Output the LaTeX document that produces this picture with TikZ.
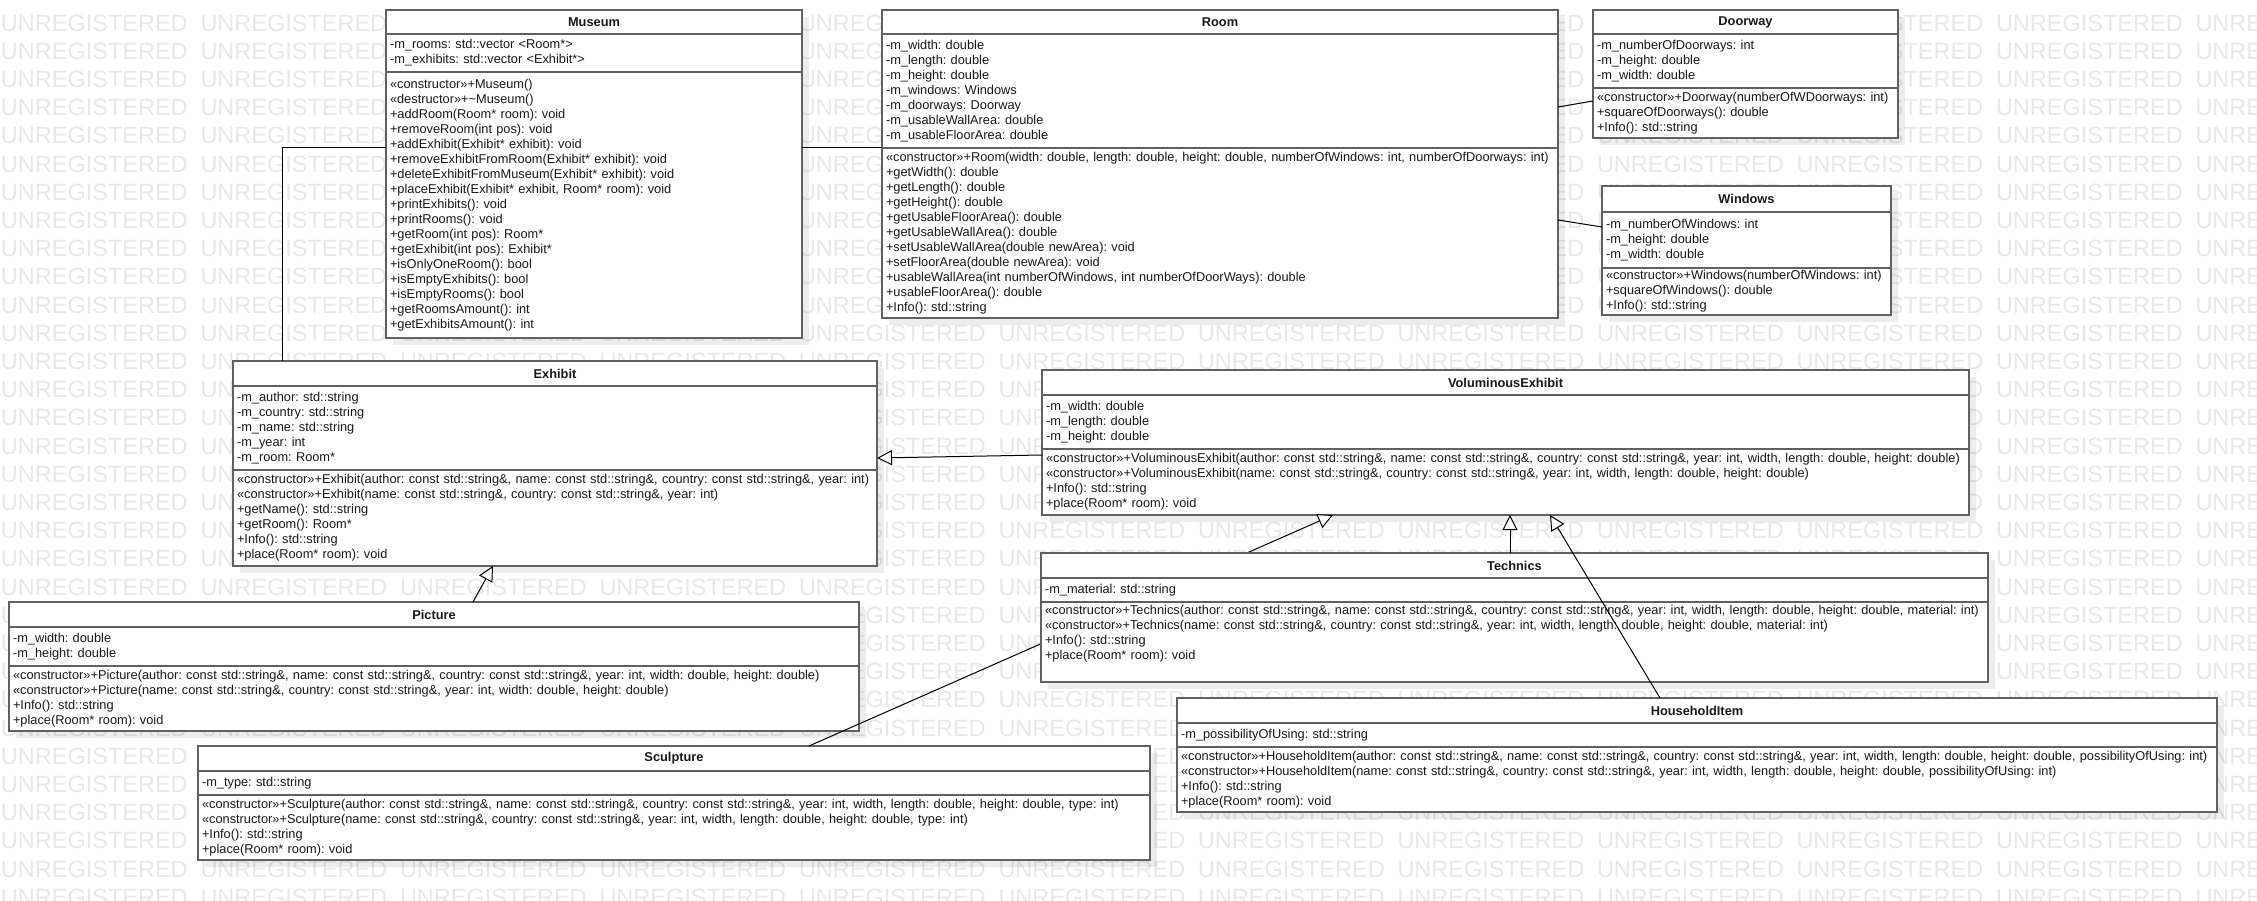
\documentclass[tikz,border=0pt]{standalone}
\usepackage{fontspec}
\setmainfont{Liberation Sans}
\usepackage{tikz}
\usetikzlibrary{arrows.meta,positioning,shadows}
\hyphenpenalty=10000
\exhyphenpenalty=10000

\begin{document}
\begin{tikzpicture}[x=1pt,y=-1pt,
  every node/.style={font=\fontsize{12.8}{15}\selectfont\frenchspacing, text=black!90, outer sep=0pt},
  watermark/.style={anchor=west, inner sep=0pt, text=black!9, font=\fontsize{23.5}{24}\selectfont},
  classname/.style={draw=black!62, line width=1.3pt, fill=white, anchor=north west, inner sep=0pt,
    font=\fontsize{12.8}{15}\selectfont\bfseries, drop shadow={shadow xshift=7pt, shadow yshift=-7pt, fill=black, opacity=0.07}},
  members/.style={draw=black!62, line width=1.3pt, fill=white, align=left, inner xsep=4pt, inner ysep=0pt,
    drop shadow={shadow xshift=7pt, shadow yshift=-7pt, fill=black, opacity=0.07}},
  assoc/.style={draw=black, line width=1pt},
  gen/.style={draw=black, line width=1pt, -{Triangle[length=15pt, width=15pt, fill=white]}}]
\fill[white] (0,0) rectangle (2257,901);
\useasboundingbox (0,0) rectangle (2257,901);

\foreach \r in {0,...,31}{
  \foreach \c in {0,...,11}{
    \node[watermark] (wm-\r-\c) at (\c*199.5+1, 23+\r*28.2) {UNREGISTERED};
  }
}

\node[classname, minimum width=416pt, minimum height=24pt] (museum) at (386,10) {Museum};
\node[members, text width=408pt, minimum height=38pt, below=0pt of museum] (museum attr) {-m\_rooms: std::vector <Room*>\\-m\_exhibits: std::vector <Exhibit*>};
\node[members, text width=408pt, minimum height=266pt, below=0pt of museum attr] (museum ops) {«constructor»+Museum()\\«destructor»+\textasciitilde Museum()\\+addRoom(Room* room): void\\+removeRoom(int pos): void\\+addExhibit(Exhibit* exhibit): void\\+removeExhibitFromRoom(Exhibit* exhibit): void\\+deleteExhibitFromMuseum(Exhibit* exhibit): void\\+placeExhibit(Exhibit* exhibit, Room* room): void\\+printExhibits(): void\\+printRooms(): void\\+getRoom(int pos): Room*\\+getExhibit(int pos): Exhibit*\\+isOnlyOneRoom(): bool\\+isEmptyExhibits(): bool\\+isEmptyRooms(): bool\\+getRoomsAmount(): int\\+getExhibitsAmount(): int};

\node[classname, minimum width=676pt, minimum height=24pt] (room) at (882,10) {Room};
\node[members, text width=668pt, minimum height=114pt, below=0pt of room] (room attr) {-m\_width: double\\-m\_length: double\\-m\_height: double\\-m\_windows: Windows\\-m\_doorways: Doorway\\-m\_usableWallArea: double\\-m\_usableFloorArea: double};
\node[members, text width=668pt, minimum height=170pt, below=0pt of room attr] (room ops) {«constructor»+Room(width: double, length: double, height: double, numberOfWindows: int, numberOfDoorways: int)\\+getWidth(): double\\+getLength(): double\\+getHeight(): double\\+getUsableFloorArea(): double\\+getUsableWallArea(): double\\+setUsableWallArea(double newArea): void\\+setFloorArea(double newArea): void\\+usableWallArea(int numberOfWindows, int numberOfDoorWays): double\\+usableFloorArea(): double\\+Info(): std::string};

\node[classname, minimum width=305pt, minimum height=24pt] (doorway) at (1593,10) {Doorway};
\node[members, text width=297pt, minimum height=54pt, below=0pt of doorway] (doorway attr) {-m\_numberOfDoorways: int\\-m\_height: double\\-m\_width: double};
\node[members, text width=297pt, minimum height=50pt, below=0pt of doorway attr] (doorway ops) {«constructor»+Doorway(numberOfWDoorways: int)\\+squareOfDoorways(): double\\+Info(): std::string};

\node[classname, minimum width=289pt, minimum height=26pt] (windows) at (1602,186) {Windows};
\node[members, text width=281pt, minimum height=56pt, below=0pt of windows] (windows attr) {-m\_numberOfWindows: int\\-m\_height: double\\-m\_width: double};
\node[members, text width=281pt, minimum height=47pt, below=0pt of windows attr] (windows ops) {«constructor»+Windows(numberOfWindows: int)\\+squareOfWindows(): double\\+Info(): std::string};

\node[classname, minimum width=644pt, minimum height=25pt] (exhibit) at (233,361) {Exhibit};
\node[members, text width=636pt, minimum height=84pt, below=0pt of exhibit] (exhibit attr) {-m\_author: std::string\\-m\_country: std::string\\-m\_name: std::string\\-m\_year: int\\-m\_room: Room*};
\node[members, text width=636pt, minimum height=96pt, below=0pt of exhibit attr] (exhibit ops) {«constructor»+Exhibit(author: const std::string\&, name: const std::string\&, country: const std::string\&, year: int)\\«constructor»+Exhibit(name: const std::string\&, country: const std::string\&, year: int)\\+getName(): std::string\\+getRoom(): Room*\\+Info(): std::string\\+place(Room* room): void};

\node[classname, minimum width=927pt, minimum height=25pt] (volum) at (1042,370) {VoluminousExhibit};
\node[members, text width=919pt, minimum height=54pt, below=0pt of volum] (volum attr) {-m\_width: double\\-m\_length: double\\-m\_height: double};
\node[members, text width=919pt, minimum height=66pt, below=0pt of volum attr] (volum ops) {«constructor»+VoluminousExhibit(author: const std::string\&, name: const std::string\&, country: const std::string\&, year: int, width, length: double, height: double)\\«constructor»+VoluminousExhibit(name: const std::string\&, country: const std::string\&, year: int, width, length: double, height: double)\\+Info(): std::string\\+place(Room* room): void};

\node[classname, minimum width=850pt, minimum height=25pt] (picture) at (9,602) {Picture};
\node[members, text width=842pt, minimum height=39pt, below=0pt of picture] (picture attr) {-m\_width: double\\-m\_height: double};
\node[members, text width=842pt, minimum height=65pt, below=0pt of picture attr] (picture ops) {«constructor»+Picture(author: const std::string\&, name: const std::string\&, country: const std::string\&, year: int, width: double, height: double)\\«constructor»+Picture(name: const std::string\&, country: const std::string\&, year: int, width: double, height: double)\\+Info(): std::string\\+place(Room* room): void};

\node[classname, minimum width=952pt, minimum height=25pt] (sculpture) at (198,746) {Sculpture};
\node[members, text width=944pt, minimum height=24pt, below=0pt of sculpture] (sculpture attr) {-m\_type: std::string};
\node[members, text width=944pt, minimum height=65pt, below=0pt of sculpture attr] (sculpture ops) {«constructor»+Sculpture(author: const std::string\&, name: const std::string\&, country: const std::string\&, year: int, width, length: double, height: double, type: int)\\«constructor»+Sculpture(name: const std::string\&, country: const std::string\&, year: int, width, length: double, height: double, type: int)\\+Info(): std::string\\+place(Room* room): void};

\node[classname, minimum width=1040pt, minimum height=25pt] (household) at (1177,698) {HouseholdItem};
\node[members, text width=1032pt, minimum height=24pt, below=0pt of household] (household attr) {-m\_possibilityOfUsing: std::string};
\node[members, text width=1032pt, minimum height=65pt, below=0pt of household attr] (household ops) {«constructor»+HouseholdItem(author: const std::string\&, name: const std::string\&, country: const std::string\&, year: int, width, length: double, height: double, possibilityOfUsing: int)\\«constructor»+HouseholdItem(name: const std::string\&, country: const std::string\&, year: int, width, length: double, height: double, possibilityOfUsing: int)\\+Info(): std::string\\+place(Room* room): void};

\draw[gen] ([xshift=611pt]sculpture.north west) -- ([xshift=291pt]volum ops.south west);

\node[classname, minimum width=947pt, minimum height=25pt] (technics) at (1041,553) {Technics};
\node[members, text width=939pt, minimum height=24pt, below=0pt of technics] (technics attr) {-m\_material: std::string};
\node[members, text width=939pt, minimum height=80pt, below=0pt of technics attr] (technics ops) {«constructor»+Technics(author: const std::string\&, name: const std::string\&, country: const std::string\&, year: int, width, length: double, height: double, material: int)\\«constructor»+Technics(name: const std::string\&, country: const std::string\&, year: int, width, length: double, height: double, material: int)\\+Info(): std::string\\+place(Room* room): void\\ \strut};

\draw[assoc] (museum ops.west |- room ops.north west) -| ([xshift=49pt]exhibit.north west);
\draw[assoc] (museum ops.east |- room ops.north west) -- (room ops.north west);
\draw[assoc] ([yshift=-73pt]room attr.north east) -- ([yshift=-13pt]doorway ops.north west);
\draw[assoc] ([yshift=-72pt]room ops.north east) -- ([yshift=-15pt]windows attr.north west);
\draw[gen] ([yshift=-6pt]volum ops.north west) -- ([yshift=-72pt]exhibit attr.north east);
\draw[gen] ([xshift=464pt]picture.north west) -- ([xshift=260pt]exhibit ops.south west);
\draw[gen] ([xshift=469pt]technics.north west) -- ([xshift=468pt]volum ops.south west);
\draw[gen] ([xshift=483pt]household.north west) -- ([xshift=508pt]volum ops.south west);
\end{tikzpicture}
\end{document}
